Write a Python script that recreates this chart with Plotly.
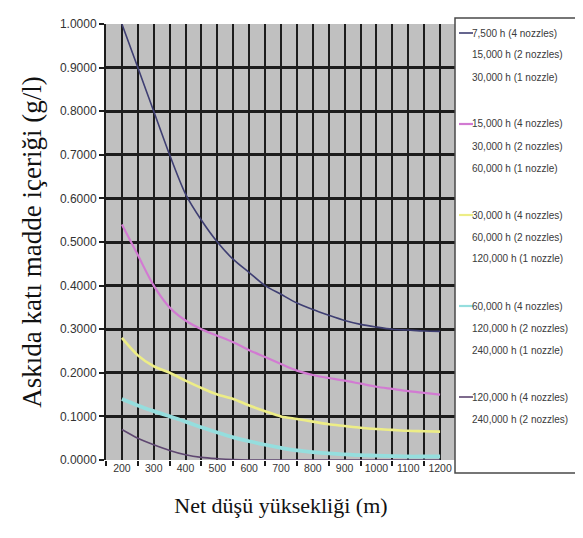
import plotly.graph_objects as go

# ---------------- data ----------------
net_head = [200, 250, 300, 350, 400, 450, 500, 550, 600, 650, 700,
            750, 800, 850, 900, 950, 1000, 1050, 1100, 1150, 1200]

s_7500 = [1.000, 0.900, 0.800, 0.700, 0.610, 0.550, 0.500, 0.460, 0.430, 0.400, 0.380,
          0.360, 0.345, 0.332, 0.320, 0.311, 0.305, 0.300, 0.298, 0.296, 0.295]
s_15000 = [0.540, 0.470, 0.400, 0.350, 0.320, 0.300, 0.285, 0.270, 0.252, 0.236, 0.220,
           0.205, 0.195, 0.188, 0.182, 0.175, 0.168, 0.163, 0.158, 0.154, 0.150]
s_30000 = [0.280, 0.240, 0.215, 0.200, 0.182, 0.165, 0.150, 0.140, 0.125, 0.112, 0.100,
           0.094, 0.088, 0.082, 0.078, 0.074, 0.071, 0.069, 0.067, 0.066, 0.065]
s_60000 = [0.140, 0.125, 0.112, 0.100, 0.088, 0.075, 0.063, 0.052, 0.043, 0.035, 0.028,
           0.022, 0.018, 0.015, 0.013, 0.011, 0.010, 0.009, 0.008, 0.008, 0.008]
s_120000 = [0.070, 0.050, 0.035, 0.022, 0.012, 0.006, 0.003, 0.001, 0.000, 0.000, 0.000,
            0.000, 0.000, 0.000, 0.000, 0.000, 0.000, 0.000, 0.000, 0.000, 0.000]

legend_1 = ["7,500 h (4 nozzles)", "15,000 h (2 nozzles)", "30,000 h (1 nozzle)"]
legend_2 = ["15,000 h (4 nozzles)", "30,000 h (2 nozzles)", "60,000 h (1 nozzle)"]
legend_3 = ["30,000 h (4 nozzles)", "60,000 h (2 nozzles)", "120,000 h (1 nozzle)"]
legend_4 = ["60,000 h (4 nozzles)", "120,000 h (2 nozzles)", "240,000 h (1 nozzle)"]
legend_5 = ["120,000 h (4 nozzles)", "240,000 h (2 nozzles)"]

y_ticks = [0.0, 0.1, 0.2, 0.3, 0.4, 0.5, 0.6, 0.7, 0.8, 0.9, 1.0]
x_ticks = [200, 300, 400, 500, 600, 700, 800, 900, 1000, 1100, 1200]

x_title = "Net düşü yüksekliği (m)"
y_title = "Askıda katı madde içeriği (g/l)"

# ---------------- styling ----------------
series = [
    (s_7500, legend_1, "#3e3e72", 1.6),
    (s_15000, legend_2, "#d27ad2", 2.2),
    (s_30000, legend_3, "#eded86", 2.6),
    (s_60000, legend_4, "#95dede", 3.8),
    (s_120000, legend_5, "#5e4670", 1.6),
]

W, H = 583, 538
L, R, T, B = 98, 448, 16, 452   # plot area in pixels


def px(x):
    return (x - L) / (R - L)


def py(y):
    return (B - y) / (B - T)


fig = go.Figure()
for vals, lab, col, w in series:
    fig.add_trace(go.Scatter(
        x=net_head, y=vals, mode="lines", name=" / ".join(lab),
        line=dict(color=col, width=w, shape="spline", smoothing=0.8),
        showlegend=False))

grid_col = "#1c1c1c"
tick_font = dict(family="Liberation Sans", color="#333333")
serif = "Liberation Serif"

fig.update_xaxes(
    range=[150, 1250], tickvals=x_ticks, ticktext=[str(v) for v in x_ticks],
    ticks="", showgrid=True, gridcolor=grid_col, gridwidth=2,
    tickfont=dict(size=10.5, **tick_font),
    minor=dict(tick0=150, dtick=100, ticks="outside", ticklen=5, tickcolor=grid_col,
               tickwidth=1.5, showgrid=True, gridcolor=grid_col, gridwidth=2),
    showline=False, zeroline=False,
    title=dict(text=x_title, standoff=25,
               font=dict(family=serif, size=22, color="#111111")),
)
fig.update_yaxes(
    range=[0, 1.0], tickvals=y_ticks, tickformat=".4f",
    ticks="outside", ticklen=5, tickcolor=grid_col, tickwidth=1.5,
    showgrid=False,
    minor=dict(tickvals=y_ticks[:-1], ticks="", showgrid=True, gridcolor=grid_col, gridwidth=2.6),
    showline=True, linecolor=grid_col, linewidth=2,
    zeroline=False,
    tickfont=dict(size=12, **tick_font),
    title=dict(text=y_title, standoff=10,
               font=dict(family=serif, size=27, color="#111111")),
)

# ---------------- legend (drawn as text + sample lines) ----------------
shapes = [dict(type="rect", xref="paper", yref="paper",
               x0=px(447), x1=px(577), y0=py(465), y1=py(10),
               line=dict(color="#4a4a4a", width=1.5), fillcolor="white", layer="above")]
annotations = []
first_line = 25
entry_step = 91
line_step = 22
for i, (vals, lab, col, w) in enumerate(series):
    y0 = first_line + entry_step * i
    shapes.append(dict(type="line", xref="paper", yref="paper",
                       x0=px(451), x1=px(465), y0=py(y0), y1=py(y0),
                       line=dict(color=col, width=min(w, 2.2))))
    for j, text in enumerate(lab):
        annotations.append(dict(
            xref="paper", yref="paper", x=px(462), y=py(y0 + line_step * j),
            xanchor="left", yanchor="middle", showarrow=False, text=text,
            font=dict(family="Liberation Sans", size=10, color="#3a3a3a")))

fig.update_layout(
    width=W, height=H,
    margin=dict(l=L, r=W - R, t=T, b=H - B, autoexpand=False),
    plot_bgcolor="#c0c0c0", paper_bgcolor="white",
    shapes=shapes, annotations=annotations,
    showlegend=False,
)

fig.write_html("out.html")
